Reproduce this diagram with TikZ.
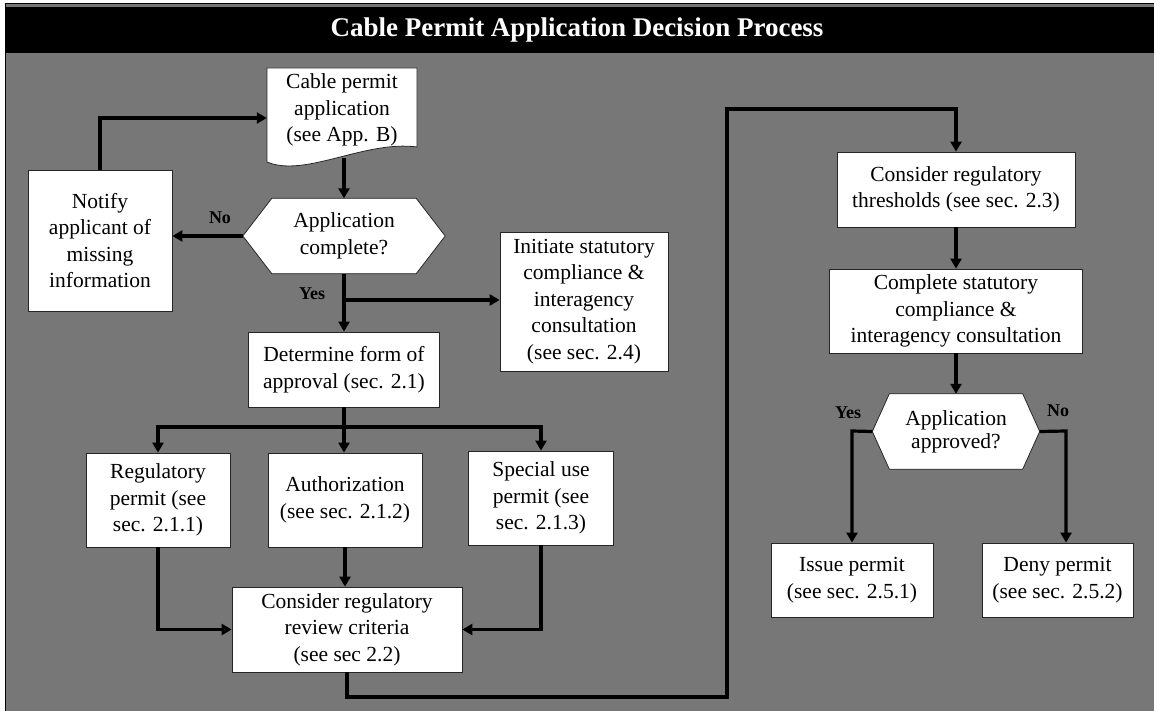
\documentclass[tikz,border=0pt]{standalone}
\usepackage{fontspec}
\setmainfont{Liberation Serif}
\usetikzlibrary{arrows.meta,calc}
\pgfdeclarelayer{background}
\pgfsetlayers{background,main}
\definecolor{bggray}{RGB}{119,119,119}
\begin{document}
\begin{tikzpicture}[x=1pt,y=-1pt,
  txt/.style={align=center,inner sep=0pt,font=\fontsize{21.5}{26.5}\selectfont},
  box/.style={txt,draw=black!85,line width=0.8pt,fill=white},
  shapeline/.style={draw=black!85,line width=0.8pt,fill=white},
  conn/.style={line width=3.2pt,line join=miter,-{Triangle[length=10pt,width=11pt]}},
  plain/.style={line width=3.2pt,line join=miter},
  lbl/.style={inner sep=0pt,font=\bfseries\fontsize{18}{20}\selectfont},
  ttl/.style={inner sep=0pt,text=white,font=\bfseries\fontsize{27}{30}\selectfont}]
\useasboundingbox (0,0) rectangle (1154,711);
\begin{pgfonlayer}{background}
\fill[white] (0,0) rectangle (1154,711);
\fill[bggray] (5,4) rectangle (1154,711);
\draw[black,line width=1pt] (5,711) -- (5,4) -- (1154,4);
\fill[black] (6,7) rectangle (1154,53);
\end{pgfonlayer}
\node[ttl] (title) at (577,30) {Cable Permit Application Decision Process};

% document shape
\node[txt,minimum width=150,minimum height=84] (doc) at (342,110) {Cable permit\\application\\(see App. B)};
\begin{pgfonlayer}{background}
\path[shapeline] (267,68) -- (267,162) .. controls (305,178) and (365,140) .. (417,147) -- (417,68) -- cycle;
\end{pgfonlayer}

% decision 1
\node[txt,minimum width=202,minimum height=75] (hex1) at (344,236) {Application\\complete?};
\begin{pgfonlayer}{background}
\path[shapeline] (hex1.west) -- ([xshift=29pt]hex1.north west) -- ([xshift=-29pt]hex1.north east) -- (hex1.east) -- ([xshift=-29pt]hex1.south east) -- ([xshift=29pt]hex1.south west) -- cycle;
\end{pgfonlayer}

\node[box,minimum width=144,minimum height=141] (notify) at (100,240.5) {Notify\\applicant of\\missing\\information};
\node[box,minimum width=168,minimum height=139] (init) at (584,301.5) {Initiate statutory\\compliance \&\\interagency\\consultation\\(see sec. 2.4)};
\node[box,minimum width=191,minimum height=75] (det) at (344,369.5) {Determine form of\\approval (sec. 2.1)};
\node[box,minimum width=144,minimum height=94] (reg) at (158,500) {Regulatory\\permit (see\\sec. 2.1.1)};
\node[box,minimum width=154,minimum height=94] (auth) at (345,500) {Authorization\\(see sec. 2.1.2)};
\node[box,minimum width=145,minimum height=94] (spec) at (541,498) {Special use\\permit (see\\sec. 2.1.3)};
\node[box,minimum width=230,minimum height=85] (cons) at (347,629.5) {Consider regulatory\\review criteria\\(see sec 2.2)};

\node[box,minimum width=238,minimum height=75] (thr) at (956,189.5) {Consider regulatory\\thresholds (see sec. 2.3)};
\node[box,minimum width=253,minimum height=84] (comp) at (956,311) {Complete statutory\\compliance \&\\interagency consultation};
\node[txt,minimum width=167,minimum height=75,font=\fontsize{21.5}{23}\selectfont] (hex2) at (956,431.5) {Application\\approved?};
\begin{pgfonlayer}{background}
\path[shapeline] (hex2.west) -- ([xshift=17pt]hex2.north west) -- ([xshift=-17pt]hex2.north east) -- (hex2.east) -- ([xshift=-17pt]hex2.south east) -- ([xshift=17pt]hex2.south west) -- cycle;
\end{pgfonlayer}
\node[box,minimum width=162,minimum height=74] (issue) at (852,580) {Issue permit\\(see sec. 2.5.1)};
\node[box,minimum width=151,minimum height=74] (deny) at (1057.5,580) {Deny permit\\(see sec. 2.5.2)};

% labels
\node[lbl] (no1) at (220,218) {No};
\node[lbl] (yes1) at (312,294) {Yes};
\node[lbl] (yes2) at (848,413) {Yes};
\node[lbl] (no2) at (1058,411) {No};

% connectors
\coordinate (docb) at (344,158);
\draw[conn] (docb) -- (hex1.north);
\draw[conn] (hex1.west) -- (hex1.west -| notify.east);
\coordinate (loopc) at (100,118);
\draw[conn] (notify.north) -- (loopc) -- (loopc -| doc.west);
\draw[conn] (hex1.south) -- (det.north);
\coordinate (yesb) at (344,300);
\draw[conn] (yesb) -- (yesb -| init.west);
\coordinate (br) at (344,427);
\draw[plain] (det.south) -- (br);
\draw[conn] (br) -| (reg.north);
\draw[conn] (br) -| (spec.north);
\draw[conn] (br) -- (br |- auth.north);
\draw[conn] (reg.south) |- (cons.west);
\draw[conn] (spec.south) |- (cons.east);
\draw[conn] (auth.south) -- (auth.south |- cons.north);
\coordinate (l1) at (347,697);
\coordinate (l2) at (727,697);
\coordinate (l3) at (727,109);
\draw[conn] (cons.south) -- (l1) -- (l2) -- (l3) -- (l3 -| thr.north) -- (thr.north);
\draw[conn] (thr.south) -- (comp.north);
\draw[conn] (comp.south) -- (hex2.north);
\coordinate (yc) at (852,431);
\draw[conn] (hex2.west) -- (yc) -- (issue.north);
\coordinate (nc) at (1066,431);
\draw[conn] (hex2.east) -- (nc) -- (nc |- deny.north);
\end{tikzpicture}
\end{document}
